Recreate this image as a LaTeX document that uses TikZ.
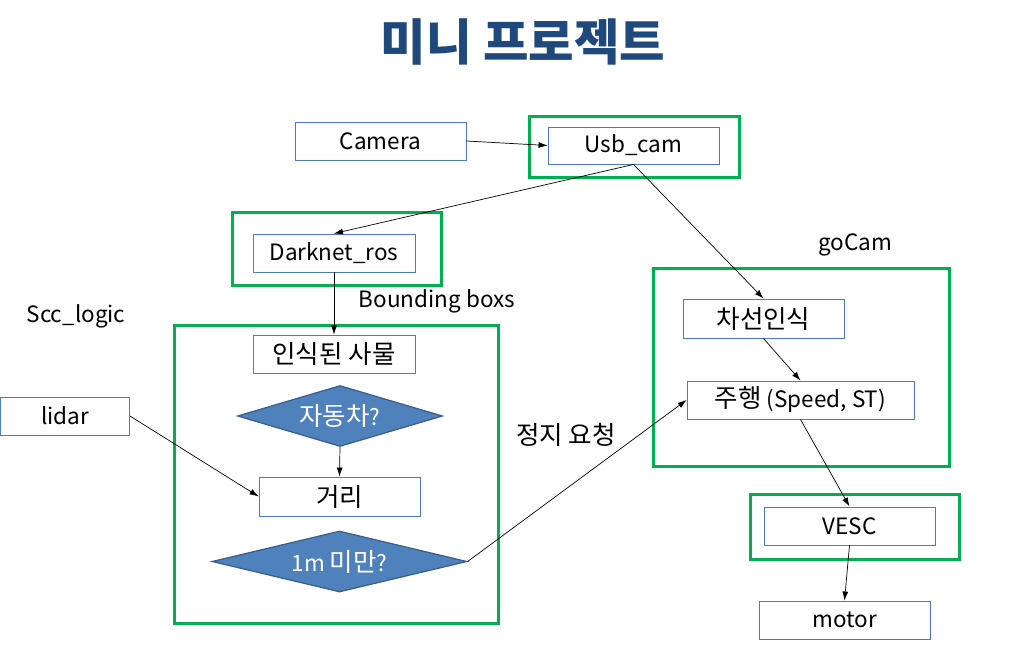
\documentclass[tikz,border=0pt]{standalone}
\usepackage{fontspec}
\setmainfont{Noto Sans CJK KR}
\usetikzlibrary{shapes.geometric,arrows.meta}
\definecolor{boxblue}{HTML}{4A7EBB}
\definecolor{grn}{HTML}{00B050}
\definecolor{dfill}{HTML}{4F81BD}
\definecolor{dline}{HTML}{385D8A}
\definecolor{titleblue}{HTML}{1F497D}
\newcommand\kr[1]{{\fontsize{25.5}{30}\selectfont #1}}
\tikzset{
  plainbox/.style={draw=boxblue, line width=0.9pt, fill=white, inner sep=0pt, font=\fontsize{22.5}{27}\selectfont},
  grnbox/.style={draw=grn, line width=3pt, inner sep=0pt},
  dia/.style={diamond, draw=dline, line width=1.2pt, fill=dfill, inner sep=0pt, text=white, font=\fontsize{22.5}{27}\selectfont},
  lbl/.style={font=\fontsize{22.5}{27}\selectfont, inner sep=0pt},
  conn/.style={line width=0.7pt, -{Latex[length=9pt,width=6pt]}}
}
\begin{document}
\begin{tikzpicture}[x=1pt,y=-1pt]
\useasboundingbox[fill=white] (0,0) rectangle (1020,650);
\node[font=\bfseries\fontsize{49.5}{55}\selectfont, text=titleblue, inner sep=0pt] (title) at (523,42) {미니 프로젝트};
% green frames
\node[grnbox, minimum width=210pt, minimum height=60pt] (gusb) at (634,147) {};
\node[grnbox, minimum width=209pt, minimum height=73pt] (gdark) at (336.5,248.5) {};
\node[grnbox, minimum width=324pt, minimum height=298pt] (gscc) at (336,474) {};
\node[grnbox, minimum width=296pt, minimum height=198pt] (ggo) at (801,367) {};
\node[grnbox, minimum width=209pt, minimum height=65pt] (gvesc) at (854.5,526.5) {};
% boxes
\node[plainbox, minimum width=171pt, minimum height=38pt] (cam) at (380.5,141) {Camera};
\node[plainbox, minimum width=171pt, minimum height=37pt] (usb) at (633.5,145.5) {Usb\_cam};
\node[plainbox, minimum width=162pt, minimum height=38pt] (dark) at (334,253) {Darknet\_ros};
\node[plainbox, minimum width=162pt, minimum height=38pt] (obj) at (334,354) {\kr{인식된 사물}};
\node[dia, minimum width=205pt, minimum height=61pt, aspect=3.36] (car) at (340,416) {\kr{자동차}?};
\node[plainbox, minimum width=161pt, minimum height=39pt] (dist) at (339.5,496.5) {\kr{거리}};
\node[dia, minimum width=255pt, minimum height=61pt, aspect=4.18] (lt) at (339.5,561.5) {1m \kr{미만}?};
\node[plainbox, minimum width=129pt, minimum height=38pt] (lidar) at (65,416) {lidar};
\node[plainbox, minimum width=161pt, minimum height=39pt] (lane) at (763.5,318.5) {\kr{차선인식}};
\node[plainbox, minimum width=227pt, minimum height=38pt] (drive) at (800.5,400) {\kr{주행} (Speed, ST)};
\node[plainbox, minimum width=171pt, minimum height=38pt] (vesc) at (849.5,526) {VESC};
\node[plainbox, minimum width=171pt, minimum height=38pt] (motor) at (844.5,620) {motor};
% labels
\node[lbl] (lgo) at (855,245) {goCam};
\node[lbl] (lbb) at (437,301) {Bounding boxs};
\node[lbl] (lscc) at (76,316) {Scc\_logic};
\node[lbl] (lstop) at (566,435) {\kr{정지 요청}};
% connectors
\draw[conn] (cam.east) -- (usb.west);
\draw[conn] (usb.south) -- (dark.north);
\draw[conn] (usb.south) -- (lane.north);
\draw[conn] (dark.south) -- (obj.north);
\draw[conn] (car.south) -- (dist.north);
\draw[conn] (lidar.east) -- (dist.west);
\draw[conn] (lt.east) -- (drive.west);
\draw[conn] (lane.south) -- (drive.north);
\draw[conn] (drive.south) -- (vesc.north);
\draw[conn] (vesc.south) -- (motor.north);
\end{tikzpicture}
\end{document}
